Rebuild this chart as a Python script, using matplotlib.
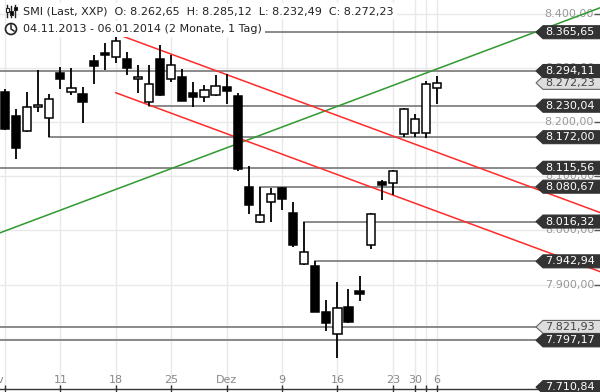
import numpy as np
import pandas as pd
import matplotlib
matplotlib.use('Agg')
import matplotlib.pyplot as plt
from matplotlib.patches import Polygon, Ellipse, Rectangle
from matplotlib.lines import Line2D

plt.rcParams['font.family'] = 'DejaVu Sans'

# Handelstage SMI 04.11.2013 - 06.01.2014 (ohne Feiertage)
days = pd.bdate_range('2013-11-04', '2014-01-06')
days = days.drop(pd.to_datetime(['2013-12-24', '2013-12-25', '2013-12-26',
                                 '2013-12-31', '2014-01-01', '2014-01-02']))

opens = [8255, 8212, 8183, 8227, 8207, 8290, 8256, 8252, 8313, 8328,
         8320, 8316, 8279, 8236, 8316, 8279, 8283, 8254, 8246, 8249,
         8264, 8248, 8080, 8015, 8052, 8078, 8032, 7938, 7934, 7849,
         7808, 7859, 7888, 7974, 8089, 8087, 8177, 8179, 8180, 8262.65]
highs = [8260, 8224, 8255, 8296, 8252, 8301, 8300, 8265, 8324, 8346,
         8365.65, 8329, 8306, 8305, 8342, 8324, 8298, 8273, 8268, 8287,
         8288, 8253, 8118, 8080.67, 8079, 8080, 8053, 8016.32, 7942.94, 7872,
         7905, 7892, 7915, 8032, 8093, 8111, 8225, 8215, 8276, 8285.12]
lows = [8186, 8131, 8182, 8218, 8172, 8261, 8250, 8199, 8271, 8296,
        8308, 8287, 8253, 8230.04, 8248, 8274, 8238, 8228, 8236, 8248,
        8234, 8109, 8030, 8013, 8015, 8038, 7970, 7936, 7849, 7815,
        7765, 7830, 7870, 7965, 8057, 8065, 8172, 8172, 8170, 8232.49]
closes = [8188, 8152, 8227, 8231, 8242, 8280, 8262, 8236, 8304, 8324,
          8350, 8300, 8283, 8270, 8250, 8305, 8239, 8247, 8259, 8266,
          8258, 8113, 8047, 8028, 8068, 8058, 7973, 7960, 7850, 7829,
          7856, 7831, 7882, 8031, 8084, 8110, 8224, 8206, 8271, 8272.23]

tick_dates = ['2013-11-04', '2013-11-11', '2013-11-18', '2013-11-25', '2013-12-02',
              '2013-12-09', '2013-12-16', '2013-12-23', '2013-12-30', '2014-01-03',
              '2014-01-06']
tick_text = ['Nov', '11', '18', '25', 'Dez', '9', '16', '23', '30', '', '6']

price_ticks = [7800, 7900, 8000, 8100, 8200, 8300, 8400]

# Horizontale Linien (Preis, Startdatum; None = von links)
level_prices = [8365.65, 8294.11, 8230.04, 8172.00, 8115.56, 8080.67,
                8016.32, 7942.94, 7821.93, 7797.17]
level_start = ['2013-11-18', None, '2013-11-21', '2013-11-08', None, '2013-12-05',
               '2013-12-11', '2013-12-12', None, None]

dark_labels = [8365.65, 8294.11, 8230.04, 8172.00, 8115.56, 8080.67,
               8016.32, 7942.94, 7797.17, 7710.84]
light_labels = [8272.23, 7821.93]

# Trendlinien (zwei Punkte: Datum, Kurs)
green_line = [('2013-11-04', 7999), ('2014-01-06', 8298)]
red_upper = [('2013-11-18', 8363), ('2014-01-06', 8144)]
red_lower = [('2013-11-18', 8254), ('2014-01-06', 8035)]

W, H = 600, 392
XMIN, XMAX = -0.451, 53.70
YMIN, YMAX = 7707.4, 8425.1


def de(v):
    s = f"{v:,.2f}"
    return s.replace(',', 'X').replace('.', ',').replace('X', '.')


def pos(d):
    return days.get_loc(pd.Timestamp(d))


fig = plt.figure(figsize=(W / 100, H / 100), dpi=100)
ax = fig.add_axes([0, 3 / H, 1, 389 / H])
ax.set_xlim(XMIN, XMAX)
ax.set_ylim(YMIN, YMAX)
for s in ['top', 'left', 'right']:
    ax.spines[s].set_visible(False)
ax.spines['bottom'].set_color('#333333')
ax.spines['bottom'].set_linewidth(1.0)

# Achsen / Gitter
ax.set_xticks([pos(d) for d in tick_dates])
ax.set_xticklabels(tick_text)
ax.get_xticklabels()[0].set_horizontalalignment('right')
ax.tick_params(axis='x', direction='inout', length=6, width=1, color='#333333',
               labelsize=8, labelcolor='#888888', pad=-13)
ax.set_yticks(price_ticks)
ax.tick_params(axis='y', left=False, right=True, direction='in', length=4,
               width=1, color='#555555', labelleft=False, labelright=False)
ax.grid(True, color='#e9e9e9', linewidth=1, zorder=0)
ax.set_axisbelow(True)

ytrans = ax.get_yaxis_transform()
for p in price_ticks:
    ax.text(1 - 6 / W, p, de(p), transform=ytrans, ha='right', va='center',
            fontsize=8, color='#999999', zorder=2)

# Horizontale Linien
for p, start in zip(level_prices, level_start):
    x0 = XMIN if start is None else pos(start)
    ax.plot([x0, XMAX], [p, p], color='#777777', linewidth=1.2, zorder=2)

# Trendlinien
def line_pts(pts):
    (d0, p0), (d1, p1) = pts
    return pos(d0), p0, pos(d1), p1

x0, p0, x1, p1 = line_pts(green_line)
ax.axline((x0, p0), (x1, p1), color='#2e9a2e', linewidth=1.1, zorder=3)
for pts in [red_upper, red_lower]:
    x0, p0, x1, p1 = line_pts(pts)
    slope = (p1 - p0) / (x1 - x0)
    ax.plot([x0, XMAX], [p0, p0 + slope * (XMAX - x0)], color='#ff2a2a',
            linewidth=1.1, zorder=3)

# Kerzen
bw = 0.74
for i, (o, h, l, c) in enumerate(zip(opens, highs, lows, closes)):
    ax.plot([i, i], [l, h], color='black', linewidth=1.3, zorder=4,
            solid_capstyle='butt')
    up = c >= o
    ax.add_patch(Rectangle((i - bw / 2, min(o, c)), bw, max(abs(c - o), 1.2),
                           facecolor='white' if up else 'black',
                           edgecolor='black', linewidth=1.1, zorder=5))

# Kursmarken rechts
half = 6.5 / 389 * (YMAX - YMIN)
def price_tag(p, dark=True):
    xt, xb = 536 / W, 543 / W
    poly = Polygon([(xt, p), (xb, p + half), (1.02, p + half), (1.02, p - half),
                    (xb, p - half)], closed=True, transform=ytrans,
                   facecolor='#333333' if dark else '#dddddd',
                   edgecolor='#333333' if dark else '#666666',
                   linewidth=0.8, zorder=7, clip_on=False)
    ax.add_patch(poly)
    ax.text(1 - 5 / W, p, de(p), transform=ytrans, ha='right', va='center',
            fontsize=8, color='white' if dark else '#444444', zorder=8)

for p in light_labels:
    price_tag(p, dark=False)
for p in dark_labels:
    price_tag(p, dark=True)

# Kopfzeile
def fx(px):
    return px / W

def fy(py):
    return 1 - py / H

fig.text(fx(23), fy(11), 'SMI (Last, XXP)  O: 8.262,65  H: 8.285,12  '
         'L: 8.232,49  C: 8.272,23', fontsize=8, color='#222222',
         ha='left', va='center',
         bbox=dict(facecolor='white', edgecolor='none', pad=2.5), zorder=10)
fig.text(fx(23), fy(29), '04.11.2013 - 06.01.2014 (2 Monate, 1 Tag)',
         fontsize=8, color='#222222', ha='left', va='center',
         bbox=dict(facecolor='white', edgecolor='none', pad=2), zorder=10)

# kleine Symbole
for xs, top, bot, b0, b1, fill in [(7, 5, 17, 8, 12, 'white'),
                                   (11, 6, 17, 11, 15, 'black'),
                                   (15, 5, 17, 7, 10, 'black')]:
    fig.add_artist(Line2D([fx(xs), fx(xs)], [fy(top), fy(bot)], color='#222222',
                          linewidth=1, zorder=11))
    fig.add_artist(Rectangle((fx(xs - 1.5), fy(b1)), 3 / W, (b1 - b0) / H,
                             facecolor=fill, edgecolor='#222222', linewidth=0.8,
                             zorder=12))
fig.add_artist(Ellipse((fx(11), fy(29)), 11 / W, 11 / H, facecolor='white',
                       edgecolor='#222222', linewidth=1.2, zorder=11))
fig.add_artist(Line2D([fx(11), fx(11), fx(14)], [fy(25), fy(29), fy(31)],
                      color='#222222', linewidth=1.1, zorder=12))

fig.savefig('out.png', dpi=100)
